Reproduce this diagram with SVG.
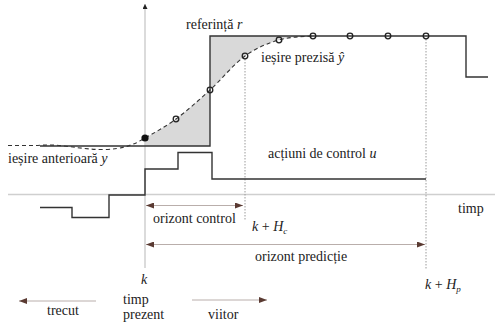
<svg xmlns="http://www.w3.org/2000/svg" width="496" height="322" viewBox="0 0 496 322">
  <defs>
    <style>
      text { font-family: "Liberation Serif", "DejaVu Serif", "Times New Roman", serif; font-size: 14px; fill: #222; }
      .it { font-style: italic; }
      .axis { stroke: #cfcfcf; stroke-width: 1.5; fill: none; }
      .sig { stroke: #333; stroke-width: 1.4; fill: none; }
      .dash { stroke: #333; stroke-width: 1.1; fill: none; stroke-dasharray: 4 3; }
      .dot { stroke: #9a9a9a; stroke-width: 1; fill: none; stroke-dasharray: 1.5 1.5; }
      .span { stroke: #b9aeab; stroke-width: 1; fill: none; }
      .pt { stroke: #222; stroke-width: 1.3; fill: none; }
    </style>
    <marker id="ah" viewBox="0 0 8 6" refX="8" refY="3" markerWidth="8" markerHeight="6" markerUnits="userSpaceOnUse" orient="auto-start-reverse">
      <path d="M0,0 L8,3 L0,6 Z" fill="#5a3a32"/>
    </marker>
    <marker id="axh" viewBox="0 0 6 6" refX="6" refY="3" markerWidth="5" markerHeight="5" markerUnits="userSpaceOnUse" orient="auto">
      <path d="M0,0 L6,3 L0,6 Z" fill="#222"/>
    </marker>
  </defs>

  <!-- shaded tracking error between reference and predicted output -->
  <path id="error-area" d="M145,146 L145,138 C153.5,133.2 165.2,127 176,119 C186.8,111 198.5,100.5 210,90 C221.5,79.5 233.5,64.3 245,56 C256.5,47.7 267.7,43.3 279,40 C290.3,36.7 301.2,36.7 313,36 L210,36 L210,146 Z" fill="#d9d9d9"/>

  <g id="connectors">
    <!-- axes -->
    <line class="axis" x1="145" y1="268" x2="145" y2="4" marker-end="url(#axh)"/>
    <line class="axis" x1="8" y1="194.5" x2="495" y2="194.5"/>
    <!-- dotted horizon markers -->
    <line class="dot" x1="245" y1="59" x2="245" y2="220"/>
    <line class="dot" x1="426" y1="39" x2="426" y2="270"/>
    <!-- horizon spans -->
    <line class="span" x1="146" y1="205.5" x2="243" y2="205.5" marker-start="url(#ah)" marker-end="url(#ah)"/>
    <line class="span" x1="146" y1="244.5" x2="425" y2="244.5" marker-start="url(#ah)" marker-end="url(#ah)"/>
    <line class="span" x1="19" y1="301" x2="96" y2="301" marker-start="url(#ah)"/>
    <line class="span" x1="192" y1="300" x2="267" y2="300" marker-end="url(#ah)"/>
  </g>

  <g id="reference">
    <path class="sig" d="M40,146 H210 V36 H466 V77 H488"/>
  </g>

  <g id="control">
    <path class="sig" d="M40,207.5 H72 V217.5 H109 V195 H145 V169 H178 V152.5 H212 V179 H426"/>
  </g>

  <g id="output">
    <path class="dash" d="M8,145.5 L38,145.5 C60,143 80,150 105,149.5 C122,149 131,145 136.5,142.8 L145,138 C153.5,133.2 165.2,127 176,119 C186.8,111 198.5,100.5 210,90 C221.5,79.5 233.5,64.3 245,56 C256.5,47.7 267.7,43.3 279,40 C290.3,36.7 301.2,36.7 313,36"/>
    <circle cx="145" cy="138" r="3.6" fill="#111"/>
    <circle class="pt" cx="176" cy="119" r="2.8"/>
    <circle class="pt" cx="210" cy="90" r="2.8"/>
    <circle class="pt" cx="245" cy="56" r="2.8"/>
    <circle class="pt" cx="279" cy="40" r="2.8"/>
    <circle class="pt" cx="313" cy="36" r="2.8"/>
    <circle class="pt" cx="350" cy="36" r="2.8"/>
    <circle class="pt" cx="388" cy="36" r="2.8"/>
    <circle class="pt" cx="426" cy="36" r="2.8"/>
  </g>

  <g id="labels">
    <text x="186" y="29">referință <tspan class="it">r</tspan></text>
    <text x="261" y="62">ieșire prezisă <tspan class="it">ŷ</tspan></text>
    <text x="8" y="163">ieșire anterioară <tspan class="it">y</tspan></text>
    <text x="268" y="158">acțiuni de control <tspan class="it">u</tspan></text>
    <text x="458" y="213">timp</text>
    <text x="153" y="223">orizont control</text>
    <text x="252" y="231" class="it">k <tspan font-style="normal">+</tspan> H<tspan font-size="9" dy="3">c</tspan></text>
    <text x="255" y="261">orizont predicție</text>
    <text x="141" y="284" class="it">k</text>
    <text x="425" y="289" class="it">k <tspan font-style="normal">+</tspan> H<tspan font-size="9" dy="3">p</tspan></text>
    <text x="47" y="315">trecut</text>
    <text x="123" y="304">timp</text>
    <text x="123" y="319">prezent</text>
    <text x="208" y="319">viitor</text>
  </g>
</svg>
